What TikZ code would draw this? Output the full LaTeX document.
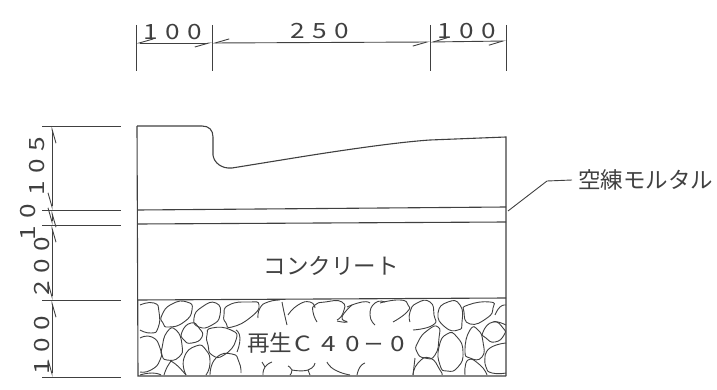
\documentclass[tikz,border=0pt]{standalone}
\usepackage{fontspec}
\setmainfont{Noto Sans CJK JP}
\newfontfamily\dimfont[LetterSpace=36,FakeStretch=1.25]{Noto Sans CJK JP}
\newfontfamily\basefont[LetterSpace=48,FakeStretch=1.25]{Noto Sans CJK JP}
\usetikzlibrary{arrows.meta}
\definecolor{inkgray}{gray}{0.25}
\tikzset{>={Straight Barb[right,length=14pt,width=8pt]},
  outline/.style={line width=1.1pt,inkgray},
  extline/.style={line width=0.9pt,inkgray},
  dimline/.style={line width=0.9pt,inkgray,<->},
  stone/.style={line width=0.9pt,inkgray,smooth,tension=1},
  dimtext/.style={text=inkgray,font=\dimfont\fontsize{21}{21}\selectfont,inner sep=0pt},
  jptext/.style={text=inkgray,font=\fontsize{22.5}{22.5}\selectfont,inner sep=0pt}}

\begin{document}
\begin{tikzpicture}[x=1pt,y=-1pt]
      \useasboundingbox (0,0) rectangle (717,390);
      % top dimensions
      \coordinate (t1) at (136,43);
      \coordinate (t2) at (212,43);
      \coordinate (t3) at (430,42);
      \coordinate (t4) at (506,41);
      \foreach \tx in {136,212,430,506}
        \draw[extline] (\tx,25)--(\tx,71);
      \draw[dimline] (t1)--(t2);
      \draw[dimline] (t2)--(t3);
      \draw[dimline] (t3)--(t4);
      \node[dimtext] at (173,32)   (top1) {100};
      \node[dimtext] at (320,31)   (top2) {250};
      \node[dimtext] at (467,31)   (top3) {100};
      % left dimensions
      \coordinate (l1) at (52,126);
      \coordinate (l2) at (52,210);
      \coordinate (l3) at (52,225);
      \coordinate (l4) at (52,300);
      \coordinate (l5) at (52,377);
      \foreach \ly in {126,210,225,300,377}
        \draw[extline] (42,\ly)--(121,\ly);
      \draw[dimline] (l1)--(l2);
      \draw[dimline] (l2)--(l3);
      \draw[dimline] (l3)--(l4);
      \draw[dimline] (l4)--(l5);
      \node[dimtext,rotate=90] at (37,166)   (left1) {105};
      \node[dimtext,rotate=90] at (28,222)   (left2) {10};
      \node[dimtext,rotate=90] at (42,266)   (left3) {200};
      \node[dimtext,rotate=90] at (42,345)   (left4) {100};
      % section
      \draw[outline] (137,126)--(202,126) .. controls (209,126) and (213,130) .. (213,137)
        --(213,155) .. controls (214,163) and (222,169) .. (232,168)
        --(300,157) .. controls (350,149) and (400,142) .. (430,140)--(506,137)--(506,376);
      \draw[outline] (137,126)--(138,376)--(506,376);
      \draw[outline] (138,210)--(506,207);
      \draw[outline] (138,224)--(506,222);
      \draw[outline] (138,300)--(506,298);
      % stones left
      \draw[stone] plot coordinates {(140,305) (154,303) (159,312) (158,328) (151,333) (140,330)};
      \draw[stone] plot[smooth cycle] coordinates {(162,315) (172,304) (187,302) (192,310) (184,322) (169,327) (163,323)};
      \draw[stone] plot[smooth cycle] coordinates {(194,318) (202,307) (216,303) (220,315) (212,325) (199,327)};
      \draw[stone] plot[smooth cycle] coordinates {(224,315) (229,305) (249,302) (259,305) (251,317) (232,327) (226,323)};
      \draw[stone] plot[smooth cycle] coordinates {(182,332) (191,323) (199,328) (202,337) (192,343) (184,340)};
      \draw[stone] plot[smooth cycle] coordinates {(207,335) (212,328) (231,330) (236,340) (224,355) (212,355) (208,345)};
      \draw[stone] plot[smooth cycle] coordinates {(162,348) (167,332) (176,330) (182,345) (179,357) (167,360) (162,355)};
      \draw[stone] plot coordinates {(140,338) (152,337) (160,348) (160,360) (151,370) (140,372)};
      \draw[stone] plot coordinates {(186,375) (184,358) (196,346) (206,350) (210,363) (206,375)};
      \draw[stone] plot coordinates {(164,375) (169,364) (174,363) (186,375)};
      \draw[stone] plot coordinates {(210,375) (216,358) (232,354) (239,362) (241,373)};
      \draw[stone] plot coordinates {(236,330) (240,338) (237,352)};
      \draw[stone] plot coordinates {(140,375) (152,373) (161,375)};
      % stones middle, cut by the text
      \draw[stone] plot coordinates {(258,318) (260,308) (268,302) (280,300)};
      \draw[stone] plot coordinates {(287,325) (284,312) (282,302)};
      \draw[stone] plot coordinates {(288,315) (298,305) (310,302) (315,308)};
      \draw[stone] plot coordinates {(317,322) (313,312) (315,305) (325,302) (342,302) (343,313) (337,320)};
      \draw[stone] plot coordinates {(352,305) (342,317) (347,322) (337,321)};
      \draw[stone] plot coordinates {(347,307) (362,302) (370,303)};
      \draw[stone] plot coordinates {(375,325) (370,315) (375,303) (385,302)};
      \draw[stone] plot coordinates {(263,375) (265,367) (272,362)};
      \draw[stone] plot coordinates {(265,367) (262,362)};
      \draw[stone] plot coordinates {(290,375) (292,370) (288,366)};
      \draw[stone] plot coordinates {(292,370) (308,370) (315,363)};
      \draw[stone] plot coordinates {(310,375) (308,370)};
      \draw[stone] plot coordinates {(327,362) (335,370) (350,375)};
      \draw[stone] plot coordinates {(357,375) (360,367) (365,363)};
      % stones right
      \draw[stone] plot coordinates {(380,303) (400,300) (408,305) (407,312) (393,322)};
      \draw[stone] plot coordinates {(410,322) (410,312) (417,303) (430,302) (434,315) (433,325) (413,330)};
      \draw[stone] plot[smooth cycle] coordinates {(438,313) (448,302) (460,305) (462,322) (458,330) (445,327)};
      \draw[stone] plot[smooth cycle] coordinates {(464,312) (468,305) (490,302) (493,308) (487,318) (470,324)};
      \draw[stone] plot coordinates {(495,315) (500,307) (506,305)};
      \draw[stone] plot coordinates {(506,325) (498,322) (493,322)};
      \draw[stone] plot[smooth cycle] coordinates {(417,352) (418,342) (428,330) (438,327) (439,338) (435,355) (425,358)};
      \draw[stone] plot[smooth cycle] coordinates {(439,347) (447,334) (457,337) (463,352) (458,367) (447,371) (440,365)};
      \draw[stone] plot[smooth cycle] coordinates {(465,350) (470,330) (478,330) (483,342) (482,357) (470,358)};
      \draw[stone] plot[smooth cycle] coordinates {(483,332) (493,322) (503,328) (504,335) (495,342) (486,338)};
      \draw[stone] plot coordinates {(485,358) (490,348) (506,343)};
      \draw[stone] plot coordinates {(506,373) (492,373) (486,367) (485,358)};
      \draw[stone] plot coordinates {(413,375) (418,363) (430,358) (440,370) (442,375)};
      \draw[stone] plot coordinates {(413,375) (415,358)};
      \draw[stone] plot coordinates {(465,375) (468,360) (480,365) (487,375)};
      % labels
      \node[jptext] at (331,266)   (conc) {コンクリート};
      \node[jptext,anchor=west] at (247,343)   (base) {再生\hspace{2pt}{\basefont\fontsize{21}{21}\selectfont C40}\hspace{4pt}{\fontsize{19}{19}\selectfont ー}\hspace{7pt}{\basefont\fontsize{21}{21}\selectfont 0}};
      \node[jptext,anchor=west] at (578,180)   (mortar) {空練モルタル};
      \coordinate (m0) at (508,211);
      \coordinate (m1) at (547,181);
      \draw[extline] (m0)--(m1)--(mortar.west -| 572,0);
       \end{tikzpicture}
\end{document}
